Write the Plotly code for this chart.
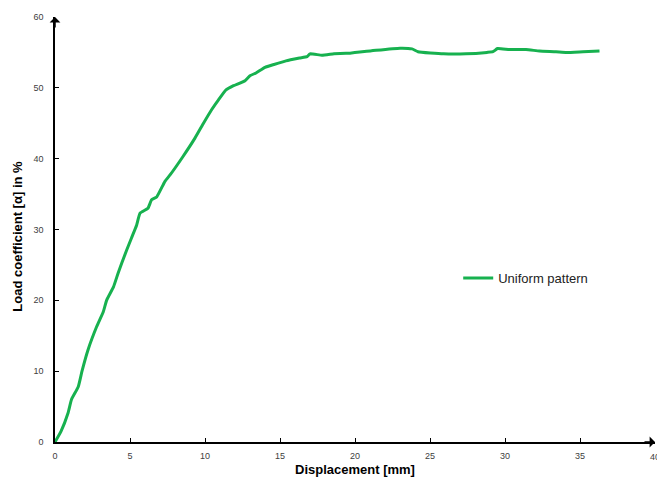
import plotly.graph_objects as go

displacement = [0, 0.4, 0.87, 1.1, 1.55, 1.8, 2.2, 2.78, 3.22, 3.44, 3.9, 4.2, 4.44, 4.78, 5.1, 5.44,
                5.67, 6.2, 6.44, 6.78, 7.33, 7.67, 8.5, 9.33, 9.9, 10.44, 10.9, 11.4, 11.9, 12.67,
                13.0, 13.4, 14.0, 14.6, 15.4, 16.3, 16.8, 17.0, 17.8, 18.6, 19.4, 19.67, 21.4, 23.0,
                23.8, 24.2, 25.9, 27.4, 28.8, 29.2, 29.5, 30.3, 31.4, 32.3, 33.4, 34.1, 35.2, 36.3]
load_coeff = [0, 1.5, 4.1, 6.0, 7.8, 10.0, 13.0, 16.3, 18.4, 20.0, 21.9, 23.8, 25.2, 27.1, 28.8, 30.6,
              32.3, 33.0, 34.2, 34.6, 36.8, 37.7, 40.2, 42.9, 45.0, 46.9, 48.3, 49.7, 50.3, 51.0,
              51.7, 52.1, 52.9, 53.3, 53.8, 54.2, 54.4, 54.8, 54.6, 54.8, 54.9, 54.9, 55.3, 55.6,
              55.5, 55.1, 54.8, 54.8, 55.0, 55.1, 55.55, 55.4, 55.4, 55.2, 55.1, 55.0, 55.1, 55.2]

x_ticks = [0, 5, 10, 15, 20, 25, 30, 35, 40]
y_ticks = [0, 10, 20, 30, 40, 50, 60]

fig = go.Figure()
fig.add_trace(go.Scatter(x=displacement, y=load_coeff, mode="lines", name="Uniform pattern",
                         line=dict(color="#17b14f", width=3, shape="spline", smoothing=0.4)))

tick_font = dict(family="Liberation Sans, Arial", size=9, color="#404040")
title_font = dict(family="Liberation Sans, Arial", size=13, color="black")
fig.update_layout(
    width=657, height=477,
    margin=dict(l=55, r=2, t=17, b=35),
    paper_bgcolor="white", plot_bgcolor="white",
    showlegend=True,
    legend=dict(x=0.672, y=0.386, xanchor="left", yanchor="middle", bgcolor="rgba(0,0,0,0)",
                font=dict(family="Liberation Sans, Arial", size=13, color="#222222"),
                itemwidth=30),
    xaxis=dict(range=[0, 40], tickvals=x_ticks, showgrid=False, zeroline=False, automargin=False,
               showline=True, linecolor="black", linewidth=1.5, ticklabelstandoff=4,
               ticks="inside", ticklen=4, tickcolor="black", tickfont=tick_font),
    yaxis=dict(range=[0, 60], tickvals=y_ticks, showgrid=False, zeroline=False, automargin=False,
               showline=True, linecolor="black", linewidth=1.5, ticklabelstandoff=8,
               ticks="inside", ticklen=4, tickcolor="black", tickfont=tick_font),
)
# last x tick label (partly cut by the window edge, as in the reference)
fig.add_annotation(text=str(x_ticks[-1]), x=x_ticks[-1], y=0, xref="x", yref="y", yshift=-8,
                   xanchor="center", yanchor="top", showarrow=False, font=tick_font)
fig.add_annotation(text="<b>Displacement [mm]</b>", x=0.5, y=-0.064, xref="paper", yref="paper",
                   xanchor="center", yanchor="middle", showarrow=False, font=title_font)
fig.add_annotation(text="<b>Load coefficient [α] in %</b>", x=-0.062, y=0.485, xref="paper", yref="paper",
                   xanchor="center", yanchor="middle", textangle=-90, showarrow=False, font=title_font)
# axis arrowheads
fig.add_annotation(x=0, y=1, xref="paper", yref="paper", ax=0, ay=12, axref="pixel", ayref="pixel",
                   text="", showarrow=True, arrowhead=1, arrowsize=1.2, arrowwidth=1.5, arrowcolor="black")
fig.add_annotation(x=1, y=0, xref="paper", yref="paper", ax=-12, ay=0, axref="pixel", ayref="pixel",
                   text="", showarrow=True, arrowhead=1, arrowsize=1.2, arrowwidth=1.5, arrowcolor="black")
fig.write_html("out.html", config={"displayModeBar": False},
               post_script="document.body.style.margin='0px';document.body.style.overflow='hidden';")
